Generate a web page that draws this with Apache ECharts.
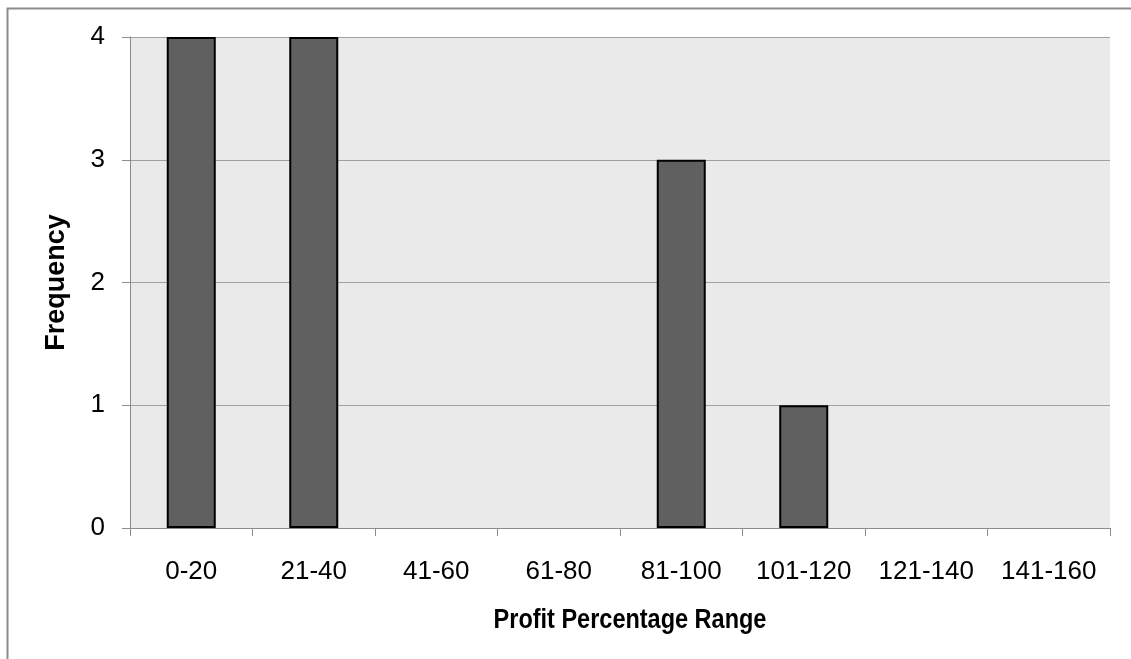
<!DOCTYPE html>
<html><head><meta charset="utf-8">
<script src="https://cdn.jsdelivr.net/npm/echarts@6/dist/echarts.min.js"></script>
<style>html,body{margin:0;padding:0;background:#fff}#c{width:1131px;height:659px}</style>
</head><body><div id="c"></div>
<script>
const categories = ['0-20','21-40','41-60','61-80','81-100','101-120','121-140','141-160'];
const frequency = [4,4,0,0,3,1,0,0];
const yTicks = [0,1,2,3,4];
const xTitle = 'Profit Percentage Range';
const yTitle = 'Frequency';

const chart = echarts.init(document.getElementById('c'));
chart.setOption({
  animation: false,
  backgroundColor: '#fff',
  graphic: [{
    type: 'polyline', silent: true,
    shape: {points: [[7.5, 660], [7.5, 8.5], [1132, 8.5]]},
    style: {stroke: '#8c8c8c', lineWidth: 2, fill: null}
  }, {
    type: 'text', silent: true, x: 630, y: 621, scaleX: 0.87, originX: 0, originY: 0,
    style: {text: xTitle, font: 'bold 27px "Liberation Sans", Arial, sans-serif', fill: '#000',
      align: 'center', verticalAlign: 'middle'}
  }],
  grid: {left: 130, right: 21, top: 37, bottom: 131, show: true, backgroundColor: '#eaeaea', borderWidth: 0},
  xAxis: {
    type: 'category', data: categories,
    axisLine: {lineStyle: {color: '#8c8c8c', width: 1}},
    axisTick: {show: true, alignWithLabel: false, length: 8, lineStyle: {color: '#8c8c8c'}},
    axisLabel: {fontFamily: 'Liberation Sans', fontSize: 26, color: '#000', margin: 31, interval: 0}
  },
  yAxis: {
    type: 'value', min: 0, max: 4, interval: 1,
    name: yTitle, nameLocation: 'middle', nameGap: 60,
    nameTextStyle: {fontFamily: 'Liberation Sans', fontWeight: 'bold', fontSize: 27, color: '#000'},
    axisLine: {show: true, lineStyle: {color: '#8c8c8c', width: 1}},
    axisTick: {show: true, length: 8, lineStyle: {color: '#8c8c8c'}},
    axisLabel: {fontFamily: 'Liberation Sans', fontSize: 26, color: '#000', margin: 25,
      formatter: v => yTicks.includes(v) ? String(v) : ''},
    splitLine: {show: true, lineStyle: {color: '#a0a0a0', width: 1}}
  },
  series: [{
    type: 'bar', barWidth: '40%',
    data: frequency.map(v => v === 0 ? {value: v, itemStyle: {borderWidth: 0, opacity: 0}} : v),
    itemStyle: {color: '#606060', borderColor: '#000', borderWidth: 2}
  }]
});
</script></body></html>
